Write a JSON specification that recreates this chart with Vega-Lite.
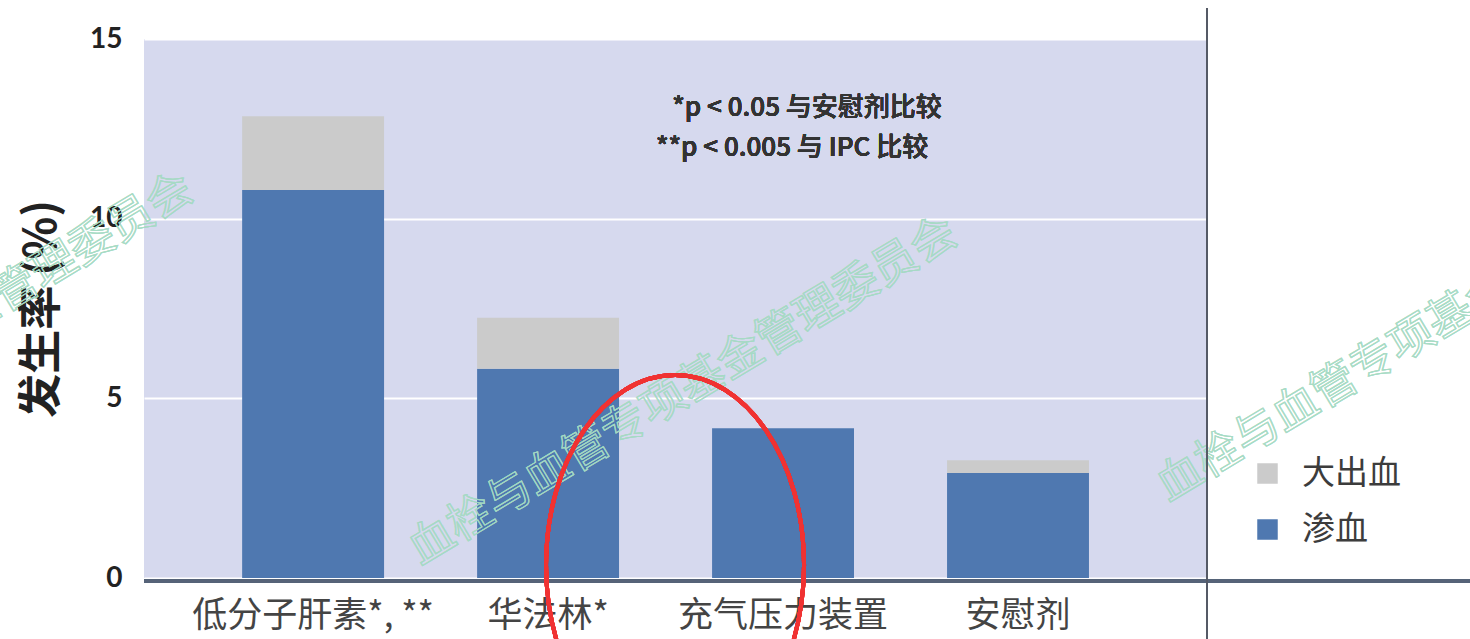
{
  "$schema": "https://vega.github.io/schema/vega-lite/v6.json",
  "autosize": "none",
  "width": 1063,
  "height": 539,
  "padding": {"left": 144, "top": 39, "right": 263, "bottom": 61},
  "background": "#ffffff",
  "config": {
    "view": {"fill": "#d6d9ee", "stroke": null},
    "font": "Noto Sans CJK SC"
  },
  "data": {
    "values": [
      {"group": "低分子肝素*, **", "type": "渗血", "value": 10.8},
      {"group": "低分子肝素*, **", "type": "大出血", "value": 2.05},
      {"group": "华法林*", "type": "渗血", "value": 5.82},
      {"group": "华法林*", "type": "大出血", "value": 1.42},
      {"group": "充气压力装置", "type": "渗血", "value": 4.17},
      {"group": "充气压力装置", "type": "大出血", "value": 0},
      {"group": "安慰剂", "type": "渗血", "value": 2.92},
      {"group": "安慰剂", "type": "大出血", "value": 0.36}
    ]
  },
  "layer": [
    {
      "mark": {"type": "bar"},
      "encoding": {
        "x": {
          "field": "group",
          "type": "nominal",
          "sort": null,
          "scale": {"domain": ["低分子肝素*, **", "华法林*", "充气压力装置", "安慰剂"], "paddingInner": 0.396, "paddingOuter": 0.46, "align": 0.454},
          "axis": {
            "title": null,
            "domain": false,
            "ticks": false,
            "labelAngle": 0,
            "labelFontSize": 35,
            "labelLimit": 0,
            "labelColor": "#444444",
            "labelFont": "Noto Sans CJK SC",
            "labelPadding": 20
          }
        },
        "y": {
          "field": "value",
          "type": "quantitative",
          "stack": "zero",
          "scale": {"domain": [0, 15], "nice": false, "zero": true},
          "axis": {
            "title": "发生率 (%)",
            "titleFontSize": 44,
            "titleFont": "Noto Sans CJK SC",
            "titleFontWeight": "bold",
            "titleColor": "#222222",
            "titlePadding": 25,
            "values": [0, 5, 10, 15],
            "domain": false,
            "ticks": false,
            "grid": true,
            "gridColor": "#ffffff",
            "gridWidth": 2,
            "labelFont": "Lato",
            "labelFontWeight": "bold",
            "labelFontSize": 28,
            "labelColor": "#222222",
            "labelPadding": 22
          }
        },
        "color": {
          "field": "type",
          "type": "nominal",
          "scale": {"domain": ["大出血", "渗血"], "range": ["#cbcbcb", "#4f78b0"]},
          "legend": {
            "title": null,
            "orient": "none",
            "legendX": 1107,
            "legendY": 418,
            "symbolType": "square",
            "symbolSize": 420,
            "symbolStrokeWidth": 0,
            "labelFontSize": 33,
            "labelFont": "Noto Sans CJK SC",
            "labelColor": "#3c3c3c",
            "labelOffset": 18,
            "rowPadding": 22,
            "padding": 0
          }
        },
        "order": {"field": "type", "sort": "descending"}
      }
    },
    {
      "mark": {"type": "text", "fontSize": 45, "fill": "transparent", "stroke": "#a6dcc5", "strokeWidth": 1, "opacity": 0.38, "angle": -31, "align": "center", "baseline": "middle", "xOffset": -100, "clip": false},
      "encoding": {"x": {"datum": "充气压力装置"}, "y": {"datum": 5.2}, "text": {"value": "血栓与血管专项基金管理委员会"}}
    },
    {
      "mark": {"type": "text", "fontSize": 45, "fill": "transparent", "stroke": "#a6dcc5", "strokeWidth": 1, "opacity": 0.38, "angle": -31, "align": "left", "baseline": "middle", "xOffset": 143, "clip": false},
      "encoding": {"x": {"datum": "安慰剂"}, "y": {"datum": 2.45}, "text": {"value": "血栓与血管专项基金管理委员会"}}
    },
    {
      "mark": {"type": "text", "fontSize": 45, "fill": "transparent", "stroke": "#a6dcc5", "strokeWidth": 1, "opacity": 0.38, "angle": -31, "align": "right", "baseline": "middle", "xOffset": -124, "clip": false},
      "encoding": {"x": {"datum": "低分子肝素*, **"}, "y": {"datum": 10.94}, "text": {"value": "血栓与血管专项基金管理委员会"}}
    },
    {
      "mark": {"type": "rule", "color": "#566378", "strokeWidth": 3.5, "yOffset": 3, "x2Offset": 263, "clip": false},
      "encoding": {"x": {"value": 0}, "x2": {"value": "width"}, "y": {"datum": 0}}
    },
    {
      "mark": {"type": "rule", "color": "#555a66", "strokeWidth": 2, "yOffset": -31, "y2Offset": 61, "clip": false},
      "encoding": {"x": {"value": "width"}, "y": {"datum": 15}, "y2": {"datum": 0}}
    },
    {
      "mark": {"type": "text", "fontSize": 26, "color": "#333333", "fontWeight": 500, "dx": 24, "baseline": "middle"},
      "encoding": {"x": {"datum": "充气压力装置"}, "y": {"datum": 13.08}, "text": {"value": "*p < 0.05 与安慰剂比较"}}
    },
    {
      "mark": {"type": "text", "fontSize": 26, "color": "#333333", "fontWeight": 500, "dx": 9, "baseline": "middle"},
      "encoding": {"x": {"datum": "充气压力装置"}, "y": {"datum": 11.97}, "text": {"value": "**p < 0.005 与 IPC 比较"}}
    },
    {
      "mark": {
        "type": "point",
        "shape": "M -0.679 0 A 0.679 1 0 1 1 0.679 0 A 0.679 1 0 1 1 -0.679 0 Z",
        "size": 144400,
        "filled": false,
        "stroke": "#f03232",
        "strokeWidth": 4,
        "opacity": 1,
        "xOffset": -108,
        "clip": false
      },
      "encoding": {"x": {"datum": "充气压力装置"}, "y": {"datum": 0.36}}
    }
  ]
}
